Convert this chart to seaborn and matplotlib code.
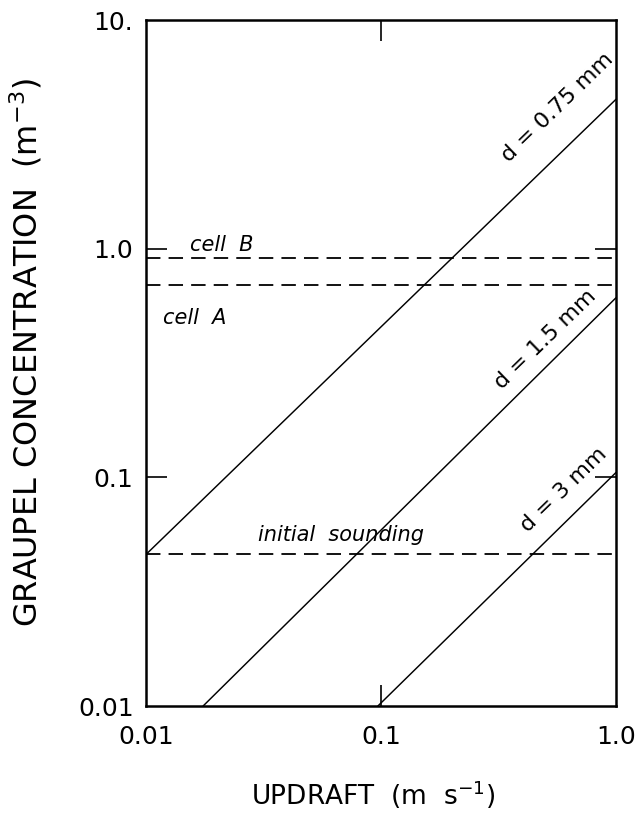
import matplotlib
matplotlib.use("Agg")
import matplotlib.pyplot as plt
import seaborn as sns
import numpy as np
import pandas as pd

# ---- data ----
updraft_075 = [0.01, 1.0]
conc_075 = [0.046, 4.5]
updraft_15 = [0.0175, 1.0]
conc_15 = [0.01, 0.61]
updraft_3 = [0.097, 1.0]
conc_3 = [0.01, 0.105]

level_x = [0.01, 1.0]
cell_B = 0.91
cell_A = 0.695
initial_sounding = 0.046

x_ticks = [0.01, 0.1, 1.0]
x_ticklabels = ["0.01", "0.1", "1.0"]
y_ticks = [0.01, 0.1, 1.0, 10.0]
y_ticklabels = ["0.01", "0.1", "1.0", "10."]

sns.set_style("ticks")
plt.rcParams["font.family"] = ["DejaVu Sans"]

fig = plt.figure(figsize=(6.42, 8.27), dpi=100)
ax = fig.add_axes([146 / 642, 1 - 706 / 827, 470 / 642, 686 / 827])

lines = pd.concat([
    pd.DataFrame({"u": updraft_075, "c": conc_075, "d": "0.75"}),
    pd.DataFrame({"u": updraft_15, "c": conc_15, "d": "1.5"}),
    pd.DataFrame({"u": updraft_3, "c": conc_3, "d": "3"}),
])
sns.lineplot(data=lines, x="u", y="c", units="d", estimator=None,
             color="black", lw=1.05, ax=ax, sort=False)

levels = pd.concat([
    pd.DataFrame({"u": level_x, "c": [cell_B] * 2, "k": "B"}),
    pd.DataFrame({"u": level_x, "c": [cell_A] * 2, "k": "A"}),
    pd.DataFrame({"u": level_x, "c": [initial_sounding] * 2, "k": "init"}),
])
for k, g in levels.groupby("k"):
    sns.lineplot(data=g, x="u", y="c", color="black", lw=1.3, ax=ax,
                 dashes=False, linestyle=(0, (8, 4.5)))

ax.set_xscale("log")
ax.set_yscale("log")
ax.set_xlim(0.01, 1.0)
ax.set_ylim(0.01, 10.0)

ax.set_xticks(x_ticks)
ax.set_xticklabels(x_ticklabels)
ax.set_yticks(y_ticks)
ax.set_yticklabels(y_ticklabels)
ax.minorticks_off()
ax.tick_params(which="major", direction="in", length=15, width=1.2,
               top=True, right=True, labelsize=18, colors="black")
ax.tick_params(axis="x", pad=14)
ax.tick_params(axis="y", pad=9)
# hide tick marks that would sit on the frame corners
for axis, vals in ((ax.xaxis, x_ticks), (ax.yaxis, y_ticks)):
    for t, v in zip(axis.get_major_ticks(), vals):
        if v in (vals[0], vals[-1]):
            t.tick1line.set_visible(False)
            t.tick2line.set_visible(False)
for s in ax.spines.values():
    s.set_linewidth(1.8)
    s.set_color("black")

ax.set_xlabel("UPDRAFT  (m  s$^{-1}$)", fontsize=19, color="black")
ax.set_ylabel("GRAUPEL CONCENTRATION  (m$^{-3}$)", fontsize=23, color="black")
ax.xaxis.set_label_coords(0.483, -0.105)
ax.yaxis.set_label_coords(-0.215, 0.515)

# annotations
ital = dict(fontsize=15, style="italic", color="black")
ax.text(0.0154, 1.04, "cell  B", ha="left", va="center", **ital)
ax.text(0.0118, 0.50, "cell  A", ha="left", va="center", **ital)
ax.text(0.030, 0.056, "initial  sounding", ha="left", va="center", **ital)

ang = np.degrees(np.arctan2(686 / 3, 470 / 2))
for x_lab, y_lab, lab in [(0.566, 4.13, "d = 0.75 mm"),
                          (0.50, 0.40, "d = 1.5 mm"),
                          (0.60, 0.088, "d = 3 mm")]:
    ax.text(x_lab, y_lab, lab, rotation=ang, rotation_mode="anchor",
            ha="center", va="center", fontsize=16, color="black")

fig.savefig("out.png", dpi=100)
